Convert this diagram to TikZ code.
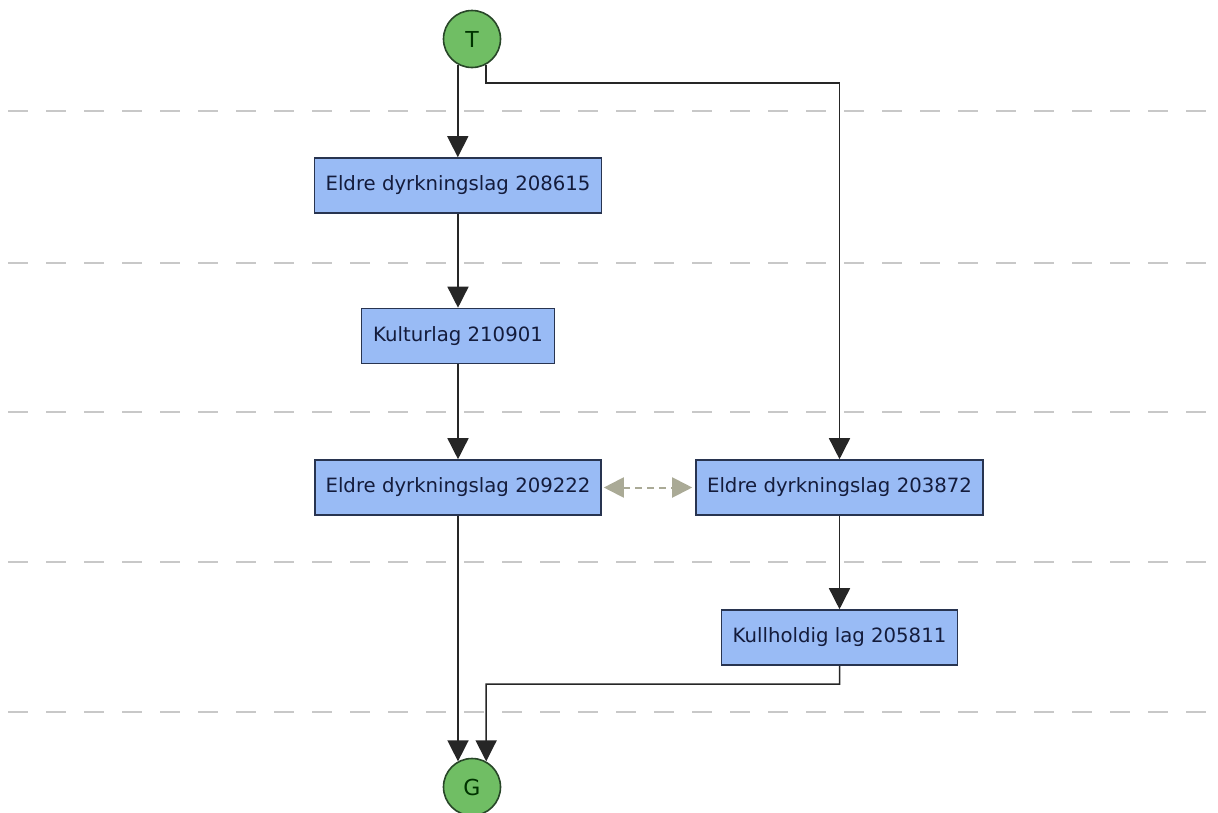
\documentclass[tikz,border=0pt]{standalone}
\usepackage{fontspec}
\setmainfont{DejaVu Sans}
\usetikzlibrary{arrows.meta,calc}
\definecolor{boxfill}{RGB}{153,187,245}
\definecolor{boxline}{RGB}{40,52,80}
\definecolor{circfill}{RGB}{112,190,100}
\definecolor{circline}{RGB}{40,70,40}
\definecolor{guide}{RGB}{200,200,200}
\definecolor{eqarrow}{RGB}{170,170,150}
\definecolor{txt}{RGB}{20,28,60}
\tikzset{
  layerbox/.style={draw=boxline, line width=1.6pt, fill=boxfill, rectangle, minimum height=55pt, inner sep=0pt, text=txt, font=\fontsize{19.7}{22}\selectfont},
  endpoint/.style={draw=circline, line width=1.6pt, fill=circfill, circle, minimum size=57pt, inner sep=0pt, text=black!80!green, font=\fontsize{22}{24}\selectfont},
  conn/.style={draw=black!85, line width=1.5pt, -{Triangle[width=21pt,length=21pt]}},
  guideline/.style={draw=guide, line width=1.6pt, dash pattern=on 20pt off 18pt},
  eqconn/.style={draw=eqarrow, line width=2pt, dash pattern=on 7pt off 5pt, {Triangle[width=20pt,length=20pt]}-{Triangle[width=20pt,length=20pt]}, shorten <=2pt, shorten >=3pt}
}
\begin{document}
\begin{tikzpicture}[x=1pt,y=-1pt]
\useasboundingbox (0,0) rectangle (1218,812);
\fill[white] (0,0) rectangle (1218,812);
\foreach \yy in {111,263,412,562,712} \draw[guideline] (8,\yy) -- (1218,\yy);
\node[endpoint] (T) at (472,39) {T};
\node[endpoint] (G) at (472,787) {G};
\node[layerbox, minimum width=287pt] (b1) at (458,185.5) {Eldre dyrkningslag 208615};
\node[layerbox, minimum width=193pt] (b2) at (458,336) {Kulturlag 210901};
\node[layerbox, minimum width=286pt] (b3) at (458,487.5) {Eldre dyrkningslag 209222};
\node[layerbox, minimum width=287pt] (b4) at (839.5,487.5) {Eldre dyrkningslag 203872};
\node[layerbox, minimum width=236pt] (b5) at (839.5,637.5) {Kullholdig lag 205811};
\coordinate (tr) at (839.5,83);
\coordinate (kg) at (486,684);
\draw[conn] (T.241) -- (T.241 |- b1.north);
\draw[conn] (b1) -- (b2);
\draw[conn] (b2) -- (b3);
\draw[conn] (b3.south) -- (b3.south |- G.119);
\draw[conn] (T.299) |- (tr) -- (b4.north);
\draw[conn] (b4) -- (b5);
\draw[conn] (b5.south) |- (kg) -- (G.61);
\draw[eqconn] (b3.east) -- (b4.west);
\end{tikzpicture}
\end{document}
